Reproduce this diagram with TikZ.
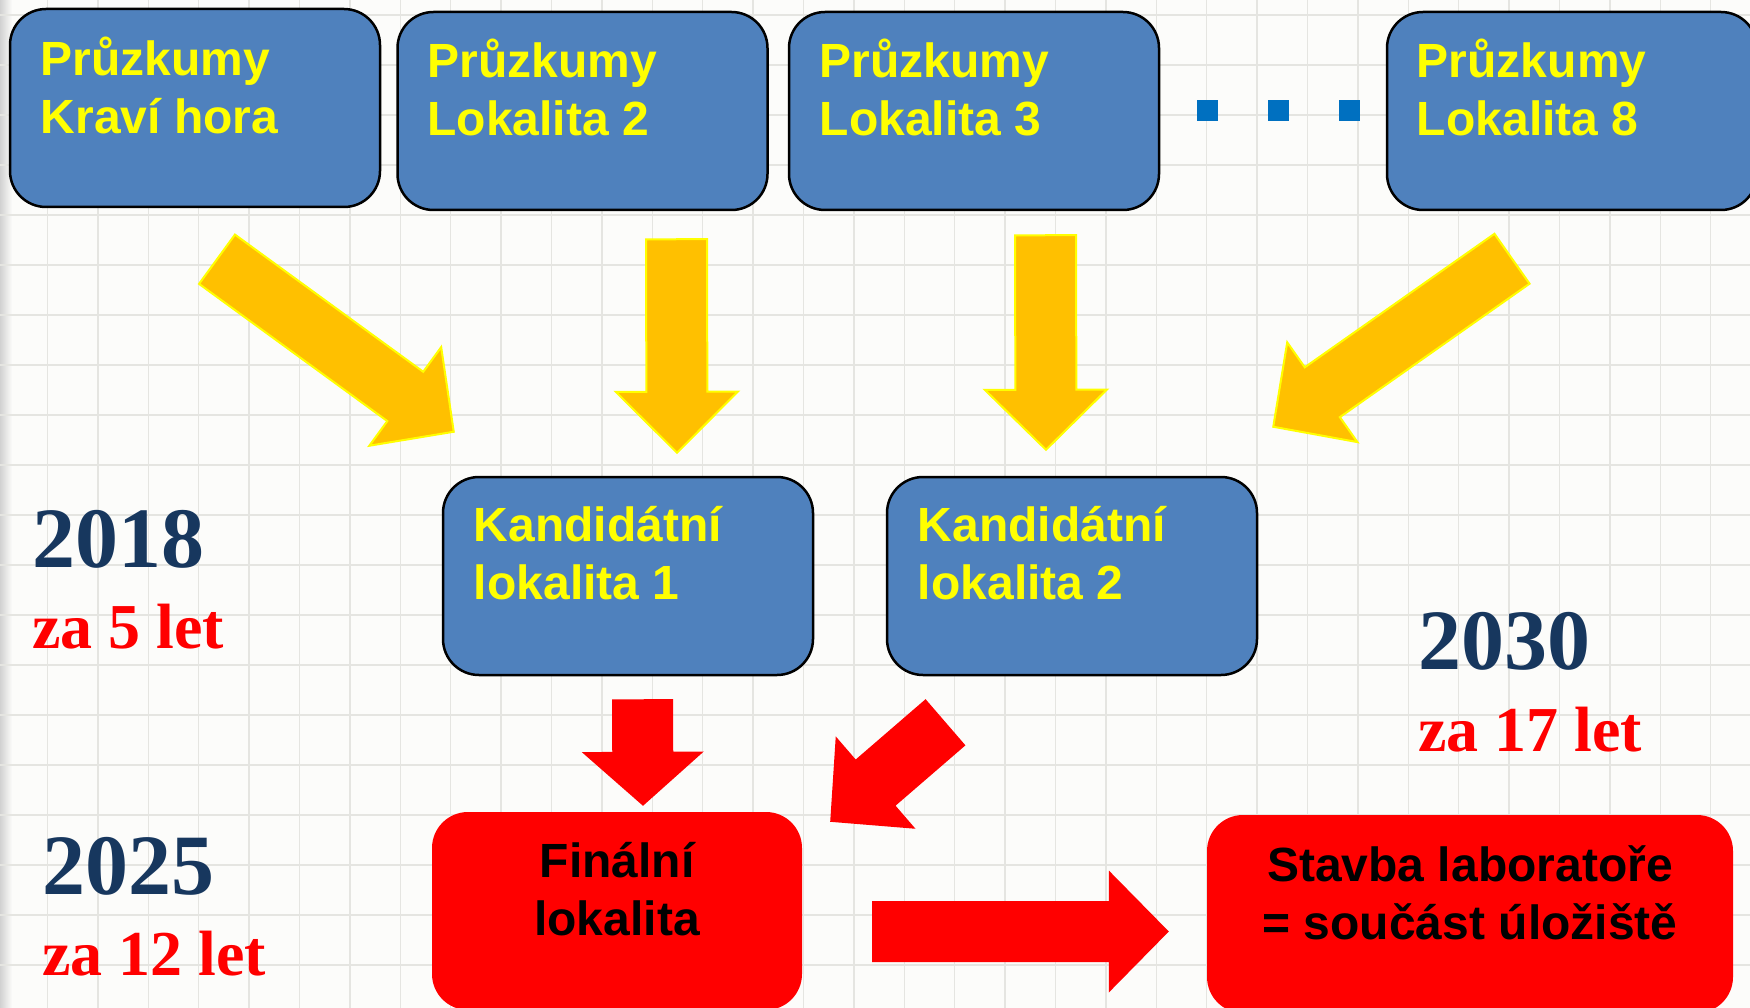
\documentclass[tikz,border=0pt]{standalone}
\usepackage{fontspec}
\usepackage{tikz}
\usetikzlibrary{calc}
\newfontfamily\sansbold{Liberation Sans}
\newfontfamily\serifbold{Liberation Serif}
\definecolor{paper}{RGB}{252,252,250}
\definecolor{gridgray}{RGB}{229,229,225}
\definecolor{boxblue}{RGB}{79,129,189}
\definecolor{boxyellow}{RGB}{255,255,0}
\definecolor{arrowgold}{RGB}{255,192,0}
\definecolor{yearnavy}{RGB}{23,55,94}
\definecolor{dotblue}{RGB}{0,112,192}
\tikzset{
    grid-line/.style = {draw=gridgray, line width=1.5pt},
    blue-box/.style = {draw=black, line width=2.5pt, fill=boxblue, rectangle, rounded corners=36pt, minimum width=370pt, minimum height=198pt, inner sep=0pt},
    red-box/.style = {fill=red, rectangle, rounded corners=36pt, minimum height=198pt, inner sep=0pt},
    box-text/.style = {anchor=base west, inner sep=0pt, align=left, text=boxyellow, font=\sansbold\bfseries\fontsize{48pt}{57.5pt}\selectfont},
    red-text/.style = {anchor=base, inner sep=0pt, align=center, text=black, font=\sansbold\bfseries\fontsize{48pt}{57.5pt}\selectfont},
    year/.style = {anchor=base west, inner sep=0pt, text=yearnavy, font=\serifbold\bfseries\fontsize{86pt}{90pt}\selectfont},
    years-left/.style = {anchor=base west, inner sep=0pt, text=red, font=\serifbold\bfseries\fontsize{64pt}{70pt}\selectfont},
    yellow-arrow/.style = {fill=arrowgold, draw=boxyellow, line width=2pt},
    red-arrow/.style = {fill=red},
}
% block arrow from #2 to #3, head length #4
\newcommand{\blockarrow}[4][]{%
  \coordinate (head-base) at ($(#3)!#4!(#2)$);
  \path[#1] ($(#2)!30.5pt!90:(#3)$) -- ($(head-base)!30.5pt!90:(#3)$) -- ($(head-base)!61pt!90:(#3)$) -- (#3)
    -- ($(head-base)!61pt!-90:(#3)$) -- ($(head-base)!30.5pt!-90:(#3)$) -- ($(#2)!30.5pt!-90:(#3)$) -- cycle;
}

\begin{document}
\begin{tikzpicture}[x=1pt, y=-1pt]
\useasboundingbox (0,0) rectangle (1750,1008);
\fill[paper] (0,0) rectangle (1750,1008);
\shade[left color=black!18, right color=paper] (0,0) rectangle (12,1008);
\foreach \k in {0,...,34} \draw[grid-line] ({47.5+50.4*\k},0) -- ++(0,1008);
\foreach \k in {0,...,19} \draw[grid-line] (0,{15+50*\k}) -- ++(1750,0);

% surveys (text anchored at the baseline of its last line)
\node[blue-box] (p1) at (195,108) {};
\node[box-text] (p1t) at ($(p1.north west)+(32,125.5)$) {Průzkumy\\Kraví hora};
\node[blue-box] (p2) at (582.5,111) {};
\node[box-text] (p2t) at ($(p2.north west)+(31,124.5)$) {Průzkumy\\Lokalita 2};
\node[blue-box] (p3) at (974,111) {};
\node[box-text] (p3t) at ($(p3.north west)+(32,124.5)$) {Průzkumy\\Lokalita 3};
\node[blue-box] (p8) at (1572,111) {};
\node[box-text] (p8t) at ($(p8.north west)+(31,124.5)$) {Průzkumy\\Lokalita 8};
\foreach \x in {1197,1268,1339} \fill[dotblue] (\x,100) rectangle ++(21,21);

% candidates
\node[blue-box] (k1) at (628,576) {};
\node[box-text] (k1t) at ($(k1.north west)+(32,123.5)$) {Kandidátní\\lokalita 1};
\node[blue-box] (k2) at (1072,576) {};
\node[box-text] (k2t) at ($(k2.north west)+(32,123.5)$) {Kandidátní\\lokalita 2};

% final site and lab
\node[red-box, minimum width=370pt] (f) at (617,911) {};
\node[red-text] (ft) at ($(f.north)+(0,123.5)$) {Finální\\lokalita};
\node[red-box, minimum width=526pt] (s) at (1470,914) {};
\node[red-text] (st) at ($(s.north)+(0,124.5)$) {Stavba laboratoře\\= součást úložiště};

% years
\node[year] (y2018) at (32,567) {2018};
\node[years-left] (z2018) at (32,648) {za 5 let};
\node[year] (y2025) at (42,894) {2025};
\node[years-left] (z2025) at (42,975) {za 12 let};
\node[year] (y2030) at (1418,669) {2030};
\node[years-left] (z2030) at (1418,751) {za 17 let};

% yellow arrows
\coordinate (a1s) at ($(p1.south)+(22,51)$);
\coordinate (a1e) at ($(k1.north west)+(12,-44)$);
\blockarrow[yellow-arrow]{a1s}{a1e}{60pt}
\coordinate (a2s) at ($(p2.south)+(94,28)$);
\coordinate (a2e) at ($(k1.north)+(49,-23)$);
\blockarrow[yellow-arrow]{a2s}{a2e}{61pt}
\coordinate (a3s) at ($(p3.south)+(71.5,24)$);
\coordinate (a3e) at ($(k2.north)+(-26,-26)$);
\blockarrow[yellow-arrow]{a3s}{a3e}{60pt}
\coordinate (a4s) at ($(p8.south)+(-60,47.5)$);
\coordinate (a4e) at ($(k2.north east)+(15,-49)$);
\blockarrow[yellow-arrow]{a4s}{a4e}{60pt}

% red arrows
\coordinate (r1s) at ($(k1.south)+(14.5,23)$);
\coordinate (r1e) at ($(f.north)+(26,-6)$);
\blockarrow[red-arrow]{r1s}{r1e}{54pt}
\coordinate (r2s) at ($(k2.south)+(-126.5,46)$);
\coordinate (r2e) at ($(f.north east)+(28,10)$);
\blockarrow[red-arrow]{r2s}{r2e}{60pt}
\coordinate (r3s) at ($(f.east)+(70,20.5)$);
\coordinate (r3e) at ($(s.west)+(-38,17.5)$);
\blockarrow[red-arrow]{r3s}{r3e}{60pt}
\end{tikzpicture}
\end{document}
